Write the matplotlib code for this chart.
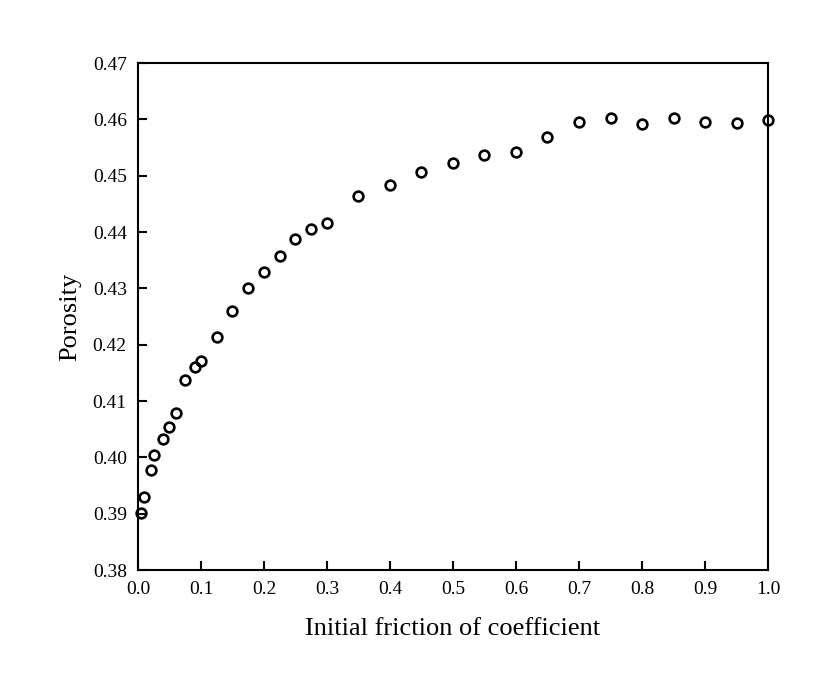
import matplotlib
matplotlib.use("Agg")
import matplotlib.pyplot as plt

# friction coefficient vs porosity
friction = [0.005, 0.01, 0.02, 0.025, 0.04, 0.05, 0.06, 0.075, 0.09, 0.10,
            0.125, 0.15, 0.175, 0.20, 0.225, 0.25, 0.275, 0.30, 0.35, 0.40,
            0.45, 0.50, 0.55, 0.60, 0.65, 0.70, 0.75, 0.80, 0.85, 0.90,
            0.95, 1.00]
porosity = [0.3902, 0.3929, 0.3978, 0.4005, 0.4032, 0.4054, 0.4078, 0.4137,
            0.4160, 0.4172, 0.4214, 0.4260, 0.4301, 0.4329, 0.4358, 0.4388,
            0.4406, 0.4417, 0.4464, 0.4483, 0.4506, 0.4522, 0.4536, 0.4543,
            0.4569, 0.4595, 0.4602, 0.4592, 0.4603, 0.4596, 0.4593, 0.4599]

xticks = [0.0, 0.1, 0.2, 0.3, 0.4, 0.5, 0.6, 0.7, 0.8, 0.9, 1.0]
yticks = [0.38, 0.39, 0.40, 0.41, 0.42, 0.43, 0.44, 0.45, 0.46, 0.47]

plt.rcParams['font.family'] = ['Liberation Serif', 'DejaVu Serif']

fig = plt.figure(figsize=(8.14, 6.86), dpi=100)
ax = fig.add_axes([0.1695, 0.169, 0.774, 0.739])

ax.plot(friction, porosity, linestyle='none', marker='o', markersize=7,
        markerfacecolor='none', markeredgecolor='black', markeredgewidth=1.9,
        clip_on=False, zorder=3)

ax.set_xlim(0, 1.0)
ax.set_ylim(0.38, 0.47)
ax.set_xticks(xticks)
ax.set_xticklabels([f"{t:.1f}" for t in xticks])
ax.set_yticks(yticks)
ax.set_yticklabels([f"{t:.2f}" for t in yticks])
ax.tick_params(direction='in', length=6.5, width=1.5, labelsize=14, pad=8)

for s in ax.spines.values():
    s.set_linewidth(1.5)

ax.set_xlabel("Initial friction of coefficient", fontsize=19, labelpad=14)
ax.set_ylabel("Porosity", fontsize=19, labelpad=8)

fig.savefig("out.png", dpi=100)
